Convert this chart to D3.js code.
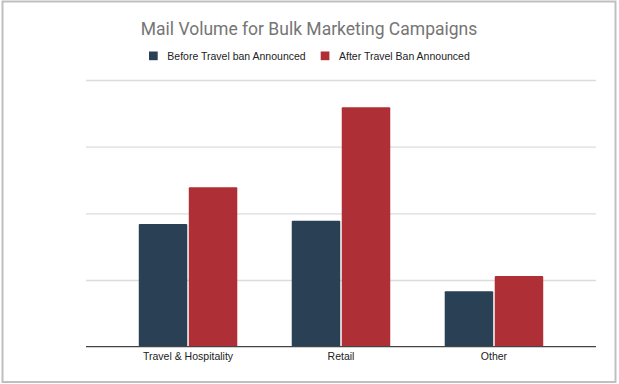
<!DOCTYPE html>
<html><head><meta charset="utf-8">
<script src="https://cdnjs.cloudflare.com/ajax/libs/d3/7.8.5/d3.min.js"></script>
<style>html,body{margin:0;padding:0;background:#fff;}svg{display:block;}</style>
</head><body>
<svg id="c" width="619" height="384"></svg>
<script>
const categories = ["Travel & Hospitality", "Retail", "Other"];
const seriesNames = ["Before Travel ban Announced", "After Travel Ban Announced"];
const beforeValues = [18.4, 18.9, 8.3];
const afterValues = [23.9, 35.9, 10.6];
const yTicks = [0, 10, 20, 30, 40];
const colors = ["#2a4054", "#ae2f35"];
const titleText = "Mail Volume for Bulk Marketing Campaigns";

(function () {
const svg = d3.select("#c");
const pL = 86, pR = 596, pT = 80, pB = 346.7;

svg.append("rect").attr("x", 2.5).attr("y", 1.5).attr("width", 613).attr("height", 380.5)
  .attr("fill", "#fff").attr("stroke", "#bfbfbf").attr("stroke-width", 2);

const x0 = d3.scaleBand().domain(categories).range([pL, pR]).paddingInner(0.356).paddingOuter(0.345);
const x1 = d3.scaleBand().domain(seriesNames).range([0, x0.bandwidth()]).paddingInner(0.03);
const y = d3.scaleLinear().domain([0, 40]).range([pB, pT]);

const grid = d3.axisLeft(y).tickValues(yTicks.slice(1)).tickSize(-(pR - pL)).tickFormat("");
svg.append("g").attr("transform", `translate(${pL},0)`).call(grid)
  .call(g => g.select(".domain").remove())
  .call(g => g.selectAll("line").attr("stroke", "#dcdcdc").attr("stroke-width", 1.3));

const data = categories.map((c, i) => ({cat: c, vals: [beforeValues[i], afterValues[i]]}));

const groups = svg.append("g").selectAll("g").data(data).join("g")
  .attr("transform", d => `translate(${x0(d.cat)},0)`);
groups.selectAll("rect").data(d => d.vals.map((v, j) => ({v, s: seriesNames[j], j})))
  .join("rect")
  .attr("x", d => x1(d.s))
  .attr("y", d => y(d.v))
  .attr("width", x1.bandwidth())
  .attr("height", d => y(0) - y(d.v))
  .attr("rx", 1)
  .attr("fill", d => colors[d.j]);

const xAxis = d3.axisBottom(x0).tickSize(0).tickPadding(6);
const gx = svg.append("g").attr("transform", `translate(0,${y(0)})`).call(xAxis);
gx.select(".domain").remove();
gx.selectAll("text").attr("font-family", "'Liberation Sans', Arial, sans-serif")
  .attr("font-size", 10.5).attr("fill", "#222");
svg.append("line").attr("x1", pL).attr("x2", pR).attr("y1", y(0)).attr("y2", y(0))
  .attr("stroke", "#444").attr("stroke-width", 1.3);

svg.append("text").attr("x", 309).attr("y", 35).attr("text-anchor", "middle")
  .attr("font-family", "Roboto, sans-serif").attr("font-size", 17.5).attr("fill", "#757575")
  .text(titleText);

const legendX = [149, 320.7];
const lg = svg.append("g").selectAll("g").data(seriesNames).join("g")
  .attr("transform", (d, i) => `translate(${legendX[i]},51.5)`);
lg.append("rect").attr("width", 8.7).attr("height", 8.7).attr("fill", (d, i) => colors[i]);
lg.append("text").attr("x", 18.3).attr("y", 8).attr("font-family", "'Liberation Sans', Arial, sans-serif")
  .attr("font-size", 10.5).attr("fill", "#222").text(d => d);
})();
</script>
</body></html>
